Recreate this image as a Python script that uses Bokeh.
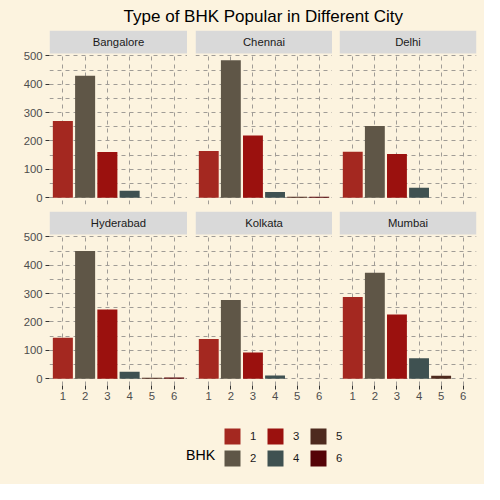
from bokeh.plotting import figure
from bokeh.layouts import column, row
from bokeh.models import (Range1d, FixedTicker, Grid, LinearAxis, Label,
                          Legend, LegendItem, ColumnDataSource, BoxAnnotation)
from bokeh.embed import file_html
from bokeh.resources import INLINE

# ---------------- data ----------------
cities = ["Bangalore", "Chennai", "Delhi", "Hyderabad", "Kolkata", "Mumbai"]
bhk = [1, 2, 3, 4, 5, 6]
bhk_labels = ["1", "2", "3", "4", "5", "6"]
count_bangalore = [270, 430, 161, 24, 0, 0]
count_chennai = [164, 484, 219, 20, 3, 3]
count_delhi = [162, 253, 154, 35, 0, 0]
count_hyderabad = [144, 450, 244, 24, 3, 4]
count_kolkata = [140, 277, 92, 11, 0, 0]
count_mumbai = [288, 373, 226, 72, 10, 0]
palette = ["#A42820", "#5F5647", "#9B110E", "#3F5151", "#4E2A1E", "#550307"]
y_ticks = [0, 100, 200, 300, 400, 500]
y_minor = [50, 150, 250, 350, 450]
title_text = "Type of BHK Popular in Different City"
legend_title = "BHK"

counts = [count_bangalore, count_chennai, count_delhi,
          count_hyderabad, count_kolkata, count_mumbai]

# ---------------- style / layout ----------------
BG = "#FCF3DF"
STRIP = "#D9D9D9"
GRID = "#A09C96"
FONT = "Liberation Sans"
left_b = [49, 8, 7]
right_b = [0, 0, 8]
frame_w = [138, 137, 137]
FH, SH = 151, 23          # data-area height, strip height (px)
ymax = max(max(c) for c in counts)
y_lo, y_hi = -0.05 * ymax, 1.05 * ymax
strip_units = SH * (y_hi - y_lo) / FH
bg_style = {"background-color": BG}


def base_fig(width, height, **kw):
    p = figure(width=width, height=height, toolbar_location=None,
               output_backend="svg", x_axis_location=None,
               y_axis_location=None, outline_line_color=None,
               border_fill_color=BG, background_fill_color=BG,
               min_border_top=0, styles=bg_style, **kw)
    p.center = [r for r in p.center if not isinstance(r, Grid)]
    return p


def make_panel(city, vals, col, bottom_row):
    bb = 26 if bottom_row else 7
    p = base_fig(frame_w[col] + left_b[col] + right_b[col], FH + SH + bb,
                 x_range=Range1d(0.4, 6.6),
                 y_range=Range1d(y_lo, y_hi + strip_units),
                 min_border_left=left_b[col], min_border_right=right_b[col],
                 min_border_bottom=bb)
    xt = FixedTicker(ticks=bhk)
    yt = FixedTicker(ticks=y_ticks, minor_ticks=y_minor)
    p.add_layout(Grid(dimension=0, ticker=xt, grid_line_color=GRID,
                      grid_line_width=1, grid_line_dash="4 4"))
    p.add_layout(Grid(dimension=1, ticker=yt, grid_line_color=GRID,
                      grid_line_width=1, grid_line_dash="4 4",
                      minor_grid_line_color=GRID, minor_grid_line_width=1,
                      minor_grid_line_dash="4 4"))
    # facet strip on top of the panel
    p.add_layout(BoxAnnotation(bottom=y_hi, fill_color=STRIP, fill_alpha=1,
                               line_color=None))
    p.add_layout(Label(x=3.5, y=y_hi + strip_units / 2, text=city,
                       text_align="center", text_baseline="middle",
                       text_font=FONT, text_font_size="11.3px",
                       text_color="#1A1A1A"))
    if col == 0:
        ya = LinearAxis(ticker=yt, axis_line_color=None,
                        major_tick_out=4, major_tick_in=0,
                        major_tick_line_color="#333333",
                        minor_tick_line_color=None,
                        major_label_standoff=3,
                        major_label_text_font=FONT,
                        major_label_text_font_size="11.3px",
                        major_label_text_color="#4D4D4D")
        p.add_layout(ya, "left")
    if bottom_row:
        xa = LinearAxis(ticker=xt, axis_line_color=None,
                        major_tick_out=4, major_tick_in=0,
                        major_tick_line_color="#333333",
                        minor_tick_line_color=None,
                        major_label_standoff=2,
                        major_label_overrides={b: l for b, l in zip(bhk, bhk_labels)},
                        major_label_text_font=FONT,
                        major_label_text_font_size="11.3px",
                        major_label_text_color="#4D4D4D")
        p.add_layout(xa, "below")
    src = ColumnDataSource(dict(bhk=bhk, count=vals, color=palette))
    p.vbar(x="bhk", top="count", bottom=0, width=0.9, fill_color="color",
           line_color=None, source=src)
    return p


# title
tfig = base_fig(484, 30, x_range=Range1d(0, 484), y_range=Range1d(0, 30),
                min_border_left=0, min_border_right=0, min_border_bottom=0)
tfig.add_layout(Label(x=262.8, y=14.4, text=title_text, text_align="center",
                      text_baseline="middle", text_font=FONT,
                      text_font_size="17px", text_color="#000000"))

rows = []
for r in range(2):
    panels = [make_panel(cities[3 * r + c], counts[3 * r + c], c, r == 1)
              for c in range(3)]
    rows.append(row(*panels, spacing=0, styles=bg_style))

# legend
lfig = base_fig(484, 73, x_range=Range1d(0, 484), y_range=Range1d(0, 73),
                min_border_left=0, min_border_right=0, min_border_bottom=0)
lfig.add_layout(Label(x=185.6, y=29.7, text=legend_title, text_align="left",
                      text_baseline="alphabetic", text_font=FONT,
                      text_font_size="14.2px", text_color="#000000"))
lsrc = ColumnDataSource(dict(bhk=bhk, color=palette))
key_r = lfig.vbar(x="bhk", top=0, bottom=0, width=0.9, fill_color="color",
                  line_color=None, source=lsrc)
items = [LegendItem(label=lab, renderers=[key_r], index=i)
         for i, lab in enumerate(bhk_labels)]
leg = Legend(items=items, location=(222, 16), orientation="vertical", nrows=2,
             glyph_width=20, glyph_height=20, label_standoff=8,
             label_width=13, spacing=2, padding=0, margin=0,
             border_line_color=None, background_fill_alpha=0,
             label_text_font=FONT, label_text_font_size="11.3px",
             label_text_color="#1A1A1A")
lfig.add_layout(leg)

layout = column(tfig, *rows, lfig, spacing=0, styles=bg_style)

open("out.html", "w").write(file_html(layout, INLINE))
